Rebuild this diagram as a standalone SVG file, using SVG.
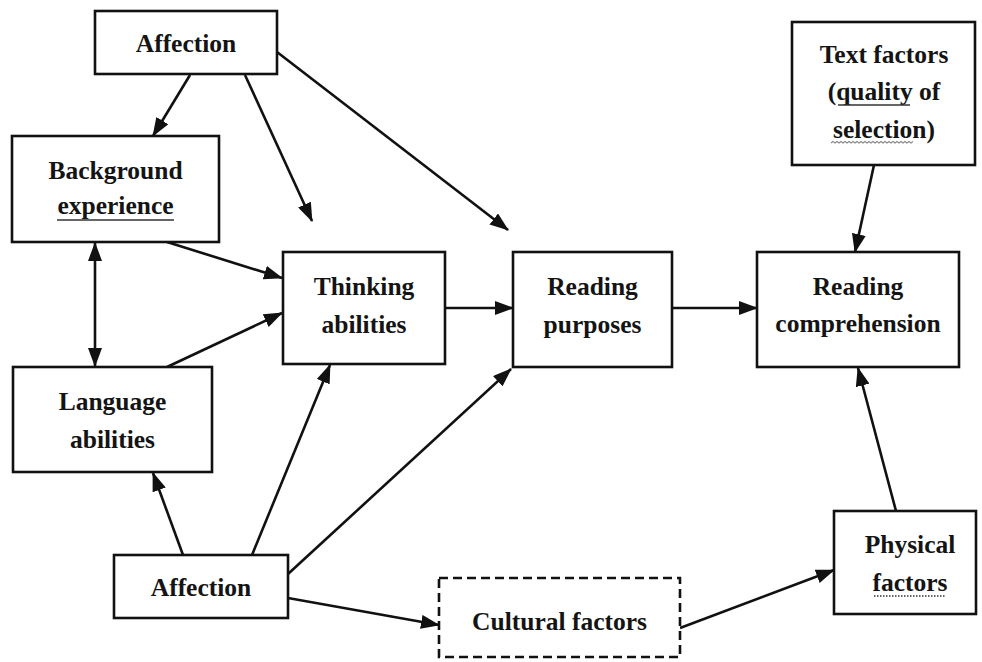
<svg xmlns="http://www.w3.org/2000/svg" width="982" height="662" viewBox="0 0 982 662">
  <style>
    .box { fill: #ffffff; stroke: #111111; stroke-width: 2.6; }
    .dashed { stroke-dasharray: 9 5; }
    .lbl { font-family: "Liberation Serif", "Times New Roman", serif; font-weight: bold; font-size: 25.5px; fill: #141414; text-anchor: middle; }
    .edge { stroke: #111111; stroke-width: 2.6; fill: none; marker-end: url(#arrow); }
    .both { marker-start: url(#arrow); }
    .uline { stroke: #333333; stroke-width: 1.4; fill: none; }
    .wavy { stroke: #8a8a8a; stroke-width: 1.1; fill: none; }
  </style>
  <defs>
    <marker id="arrow" viewBox="0 0 19 14" refX="18" refY="7" markerWidth="19" markerHeight="14" markerUnits="userSpaceOnUse" orient="auto-start-reverse">
      <path d="M0,0 L19,7 L0,14 z" fill="#111111"/>
    </marker>
  </defs>
  <rect width="982" height="662" fill="#ffffff"/>

  <!-- connectors -->
  <g id="connectors">
    <line class="edge" x1="190" y1="75" x2="153" y2="136"/>
    <line class="edge" x1="245" y1="75" x2="312" y2="221"/>
    <line class="edge" x1="277" y1="52" x2="508" y2="230"/>
    <line class="edge both" x1="95" y1="243" x2="95" y2="366"/>
    <line class="edge" x1="167" y1="242" x2="282" y2="278"/>
    <line class="edge" x1="167" y1="367" x2="282" y2="313"/>
    <line class="edge" x1="445" y1="308" x2="513" y2="308"/>
    <line class="edge" x1="672" y1="308" x2="757" y2="308"/>
    <line class="edge" x1="874" y1="165" x2="855" y2="252"/>
    <line class="edge" x1="896" y1="511" x2="858" y2="368"/>
    <line class="edge" x1="183" y1="555" x2="153" y2="473"/>
    <line class="edge" x1="252" y1="555" x2="330" y2="365"/>
    <line class="edge" x1="288" y1="574" x2="511" y2="369"/>
    <line class="edge" x1="288" y1="598" x2="439" y2="625"/>
    <line class="edge" x1="680" y1="628" x2="834" y2="570"/>
  </g>

  <g id="affection-top">
    <rect class="box" x="95" y="11" width="182" height="63"/>
    <text class="lbl" x="186" y="52">Affection</text>
  </g>

  <g id="background-experience">
    <rect class="box" x="12" y="136" width="207" height="106"/>
    <text class="lbl" x="115.5" y="179">Background</text>
    <text class="lbl" x="115.5" y="214">experience</text>
    <line class="uline" x1="57" y1="220" x2="174" y2="220"/>
  </g>

  <g id="language-abilities">
    <rect class="box" x="13" y="367" width="199" height="105"/>
    <text class="lbl" x="112.5" y="410">Language</text>
    <text class="lbl" x="112.5" y="448">abilities</text>
  </g>

  <g id="thinking-abilities">
    <rect class="box" x="283" y="252" width="162" height="112"/>
    <text class="lbl" x="364" y="295">Thinking</text>
    <text class="lbl" x="364" y="333">abilities</text>
  </g>

  <g id="reading-purposes">
    <rect class="box" x="513" y="252" width="159" height="115"/>
    <text class="lbl" x="592.5" y="295">Reading</text>
    <text class="lbl" x="592.5" y="333">purposes</text>
  </g>

  <g id="reading-comprehension">
    <rect class="box" x="757" y="252" width="202" height="115"/>
    <text class="lbl" x="858" y="295">Reading</text>
    <text class="lbl" x="858" y="332">comprehension</text>
  </g>

  <g id="text-factors">
    <rect class="box" x="792" y="22" width="183" height="143"/>
    <text class="lbl" x="884" y="63">Text factors</text>
    <text class="lbl" x="884" y="100">(quality of</text>
    <text class="lbl" x="884" y="138">selection)</text>
    <line class="uline" x1="838" y1="105" x2="910" y2="105"/>
    <path class="wavy" d="M831,143 l2,-1.5 l2,1.5 l2,-1.5 l2,1.5 l2,-1.5 l2,1.5 l2,-1.5 l2,1.5 l2,-1.5 l2,1.5 l2,-1.5 l2,1.5 l2,-1.5 l2,1.5 l2,-1.5 l2,1.5 l2,-1.5 l2,1.5 l2,-1.5 l2,1.5 l2,-1.5 l2,1.5 l2,-1.5 l2,1.5 l2,-1.5 l2,1.5 l2,-1.5 l2,1.5 l2,-1.5 l2,1.5 l2,-1.5 l2,1.5 l2,-1.5 l2,1.5 l2,-1.5 l2,1.5 l2,-1.5 l2,1.5 l2,-1.5 l2,1.5 l2,-1.5"/>
  </g>

  <g id="physical-factors">
    <rect class="box" x="834" y="511" width="142" height="103"/>
    <text class="lbl" x="910" y="553">Physical</text>
    <text class="lbl" x="910" y="591">factors</text>
    <line class="uline" x1="874" y1="596" x2="946" y2="596" stroke-dasharray="1.5 1.5"/>
  </g>

  <g id="affection-bottom">
    <rect class="box" x="114" y="555" width="174" height="63"/>
    <text class="lbl" x="201" y="596">Affection</text>
  </g>

  <g id="cultural-factors">
    <rect class="box dashed" x="439" y="578" width="241" height="79"/>
    <text class="lbl" x="559.5" y="630">Cultural factors</text>
  </g>
</svg>
